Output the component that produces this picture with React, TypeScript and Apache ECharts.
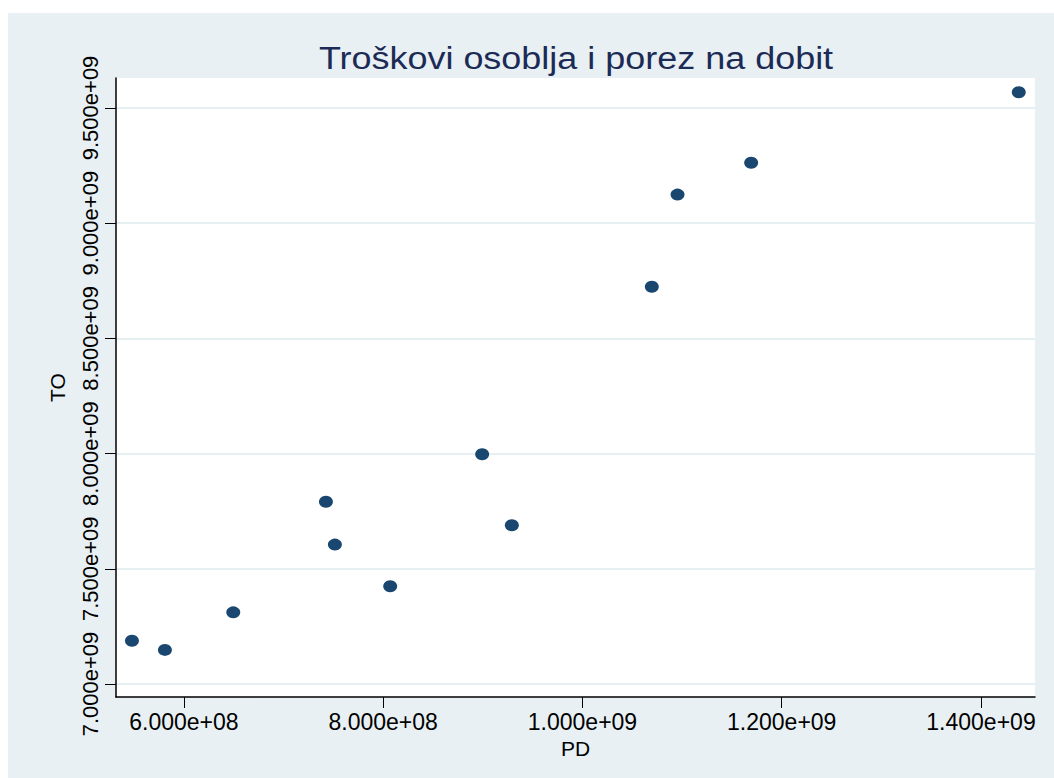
import React, { useEffect, useRef } from "react";
import * as echarts from "echarts";

const chartTitle = "Troškovi osoblja i porez na dobit";
const xName = "PD";
const yName = "TO";
const pdValues = [5.478e8, 5.809e8, 6.495e8, 7.425e8, 7.515e8, 8.07e8, 8.993e8, 9.291e8, 1.0696e9, 1.0954e9, 1.1693e9, 1.4379e9];
const toValues = [7.188e9, 7.148e9, 7.311e9, 7.791e9, 7.605e9, 7.424e9, 7.997e9, 7.689e9, 8.724e9, 9.124e9, 9.262e9, 9.568e9];
const xTicks = [6e8, 8e8, 1e9, 1.2e9, 1.4e9];
const yTicks = [7e9, 7.5e9, 8e9, 8.5e9, 9e9, 9.5e9];

function fmtSci(v: number): string {
  if (v === 0) return "0";
  const e = Math.floor(Math.log10(Math.abs(v)) + 1e-9);
  const m = v / Math.pow(10, e);
  return m.toFixed(3) + "e" + (e >= 0 ? "+" : "-") + String(Math.abs(e)).padStart(2, "0");
}

const BG = "#e8f0f3";
const FONT = "'Liberation Sans', Arial, sans-serif";

export default function App() {
  const ref = useRef<HTMLDivElement>(null);
  useEffect(() => {
    if (!ref.current) return;
    const chart = echarts.init(ref.current, null, { renderer: "svg" });
    chart.setOption({
      animation: false,
      backgroundColor: BG,
      textStyle: { fontFamily: FONT },
      graphic: [
        { type: "rect", shape: { x: 0, y: 0, width: 1054, height: 13 }, style: { fill: "#ffffff" }, silent: true },
        { type: "rect", shape: { x: 0, y: 0, width: 8, height: 778 }, style: { fill: "#ffffff" }, silent: true },
        {
          type: "text",
          x: 576,
          y: 58,
          scaleX: 1.16,
          style: {
            text: chartTitle,
            fontSize: 31,
            fontFamily: FONT,
            fill: "#1c2b55",
            align: "center",
            verticalAlign: "middle",
          },
        },
      ],
      grid: {
        left: 116,
        right: 19,
        top: 78,
        bottom: 81,
        show: true,
        backgroundColor: "#ffffff",
        borderWidth: 0,
      },
      xAxis: {
        type: "value",
        min: 5.318e8,
        max: 1.4542e9,
        name: xName,
        nameLocation: "middle",
        nameGap: 36,
        nameTextStyle: { fontSize: 21, color: "#000", fontFamily: FONT },
        axisLine: { show: true, onZero: false, lineStyle: { color: "#000", width: 1.5 } },
        axisTick: { show: true, length: 11, customValues: xTicks, lineStyle: { color: "#000", width: 1 } },
        axisLabel: {
          customValues: xTicks,
          formatter: (v: number) => fmtSci(v),
          fontSize: 23,
          color: "#000",
          margin: 13,
          fontFamily: FONT,
        },
        splitLine: { show: false },
      },
      yAxis: {
        type: "value",
        min: 6.9436e9,
        max: 9.63e9,
        name: yName,
        nameLocation: "middle",
        nameGap: 48,
        nameTextStyle: { fontSize: 21, color: "#000", fontFamily: FONT },
        axisLine: { show: true, onZero: false, lineStyle: { color: "#000", width: 1.5 } },
        axisTick: { show: true, length: 11, customValues: yTicks, lineStyle: { color: "#000", width: 1 } },
        axisLabel: {
          customValues: yTicks,
          formatter: (v: number) => fmtSci(v),
          fontSize: 22,
          color: "#000",
          rotate: 90,
          margin: 15,
          fontFamily: FONT,
        },
        splitLine: { show: true, lineStyle: { color: "#e6eff2", width: 2 } },
      },
      series: [
        {
          type: "scatter",
          data: pdValues.map((x, i) => [x, toValues[i]]),
          symbol: "circle",
          symbolSize: [14, 12],
          itemStyle: { color: "#1a476f", opacity: 1 },
        },
      ],
    });
    return () => chart.dispose();
  }, []);
  return <div ref={ref} style={{ position: "fixed", left: 0, top: 0, width: 1054, height: 778 }} />;
}
